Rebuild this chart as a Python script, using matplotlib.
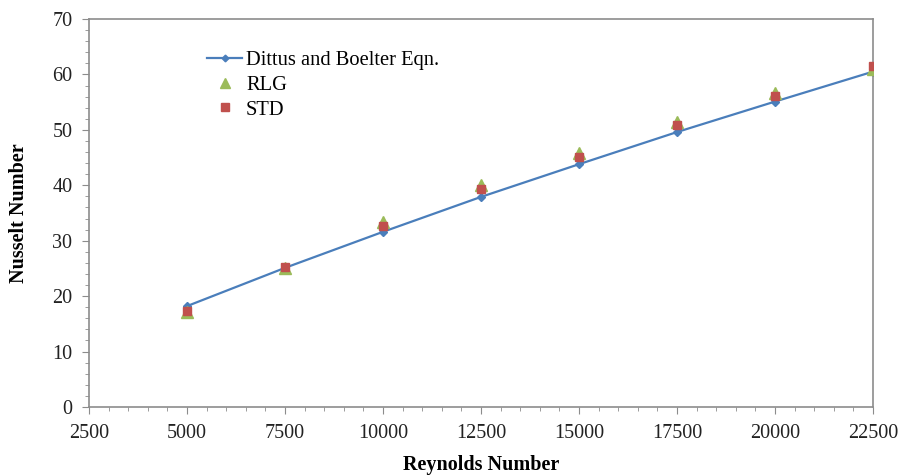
import matplotlib.pyplot as plt
import numpy as np
from matplotlib.ticker import MultipleLocator

plt.rcParams['font.family'] = ['Liberation Serif', 'DejaVu Serif']

# Data
reynolds = [5000, 7500, 10000, 12500, 15000, 17500, 20000, 22500]
dittus = [18.2, 25.1, 31.6, 37.9, 43.8, 49.6, 55.1, 60.5]
rlg = [17.1, 25.0, 33.4, 40.0, 45.8, 51.4, 56.6, 60.9]
std = [17.4, 25.3, 32.6, 39.4, 45.1, 50.8, 56.1, 61.6]

fig = plt.figure(figsize=(8.98, 4.75), dpi=100)
ax = fig.add_axes([0.0991, 0.1432, 0.8730, 0.8168])

ax.plot(reynolds, dittus, color='#4A7EBB', lw=1.6, marker='D', ms=4,
        label='Dittus and Boelter Eqn.', zorder=2)
ax.plot(reynolds, rlg, ls='none', marker='^', ms=9, color='#9BBB59',
        label='RLG', zorder=3)
ax.plot(reynolds, std, ls='none', marker='s', ms=6, color='#C0504D',
        label='STD', zorder=4)

ax.set_xlim(2500, 22500)
ax.set_ylim(0, 70)
ax.xaxis.set_major_locator(MultipleLocator(2500))
ax.xaxis.set_minor_locator(MultipleLocator(500))
ax.yaxis.set_major_locator(MultipleLocator(10))
ax.yaxis.set_minor_locator(MultipleLocator(2))

for s in ax.spines.values():
    s.set_color('#8c8c8c')
    s.set_linewidth(1.2)
ax.tick_params(which='both', direction='out', color='#8c8c8c', labelsize=14.5,
               labelcolor='#222222')
ax.tick_params(which='major', length=5)
ax.tick_params(which='minor', length=3)
ax.tick_params(axis='x', pad=7)
ax.tick_params(axis='y', pad=7)

ax.set_xlabel('Reynolds Number', fontsize=14.5, fontweight='bold', labelpad=9)
ax.set_ylabel('Nusselt Number', fontsize=14.5, fontweight='bold', labelpad=17)

leg = ax.legend(loc='upper left', bbox_to_anchor=(0.127, 0.965), frameon=False,
                fontsize=14.8, handlelength=1.7, handletextpad=0.2,
                labelspacing=0.25, markerscale=0.85)

fig.savefig('out.png', dpi=100)
